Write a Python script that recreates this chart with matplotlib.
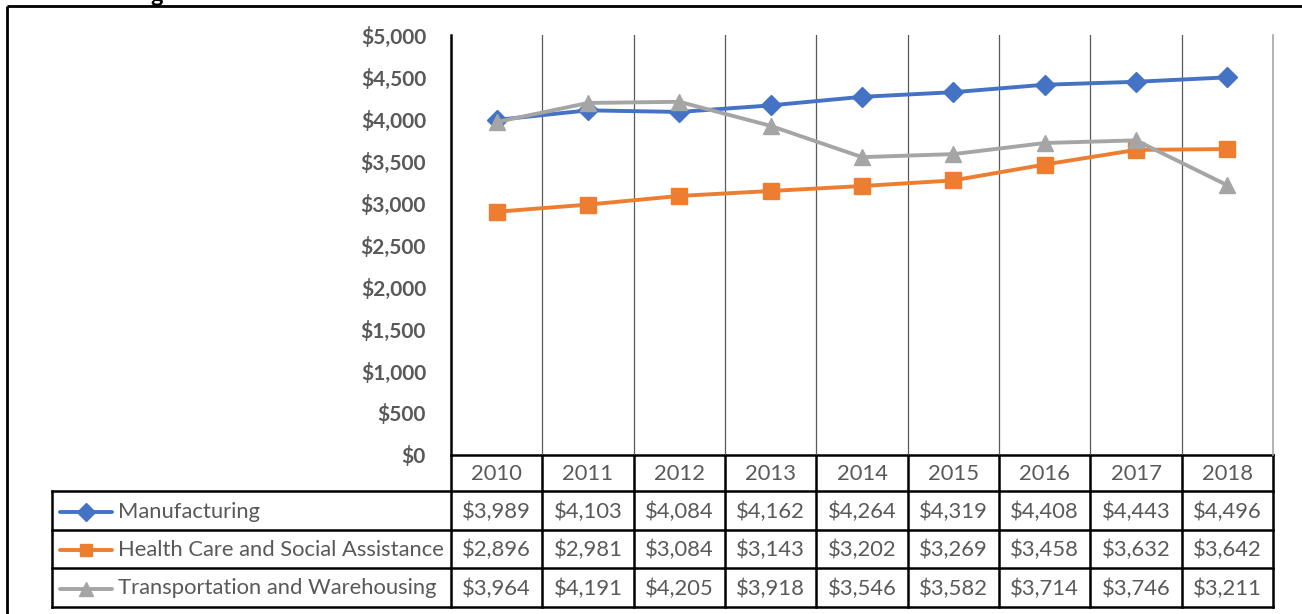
import matplotlib
matplotlib.use("Agg")
import matplotlib.pyplot as plt

years = ["2010", "2011", "2012", "2013", "2014", "2015", "2016", "2017", "2018"]
series_names = ["Manufacturing", "Health Care and Social Assistance", "Transportation and Warehousing"]
manufacturing = [3989, 4103, 4084, 4162, 4264, 4319, 4408, 4443, 4496]
health_care = [2896, 2981, 3084, 3143, 3202, 3269, 3458, 3632, 3642]
transportation = [3964, 4191, 4205, 3918, 3546, 3582, 3714, 3746, 3211]
y_ticks = [0, 500, 1000, 1500, 2000, 2500, 3000, 3500, 4000, 4500, 5000]

colors = ["#4472C4", "#ED7D31", "#A5A5A5"]
markers = ["D", "s", "^"]
msizes = [10.5, 11, 12]
all_series = [manufacturing, health_care, transportation]

W, H = 1302, 614
fig = plt.figure(figsize=(W / 100, H / 100), dpi=100)
plt.rcParams['font.family'] = ['Lato', 'DejaVu Sans']
TXT = "#595959"
FS = 15.8

# overlay axes in pixel coordinates for table / borders
ov = fig.add_axes([0, 0, 1, 1])
ov.set_xlim(0, W)
ov.set_ylim(H, 0)
ov.axis("off")

# plot area
L, R, T, B = 451, 1273, 35, 455
ax = fig.add_axes([L / W, 1 - B / H, (R - L) / W, (B - T) / H])
n = len(years)
xs = list(range(n))
ax.set_xlim(-0.5, n - 0.5)
ax.set_ylim(0, 5000)
for i, (vals, c, m, ms) in enumerate(zip(all_series, colors, markers, msizes)):
    ax.plot(xs, vals, color=c, lw=2.8, marker=m, ms=ms, mec=c, mfc=c, zorder=3 + i,
            solid_capstyle="round")
for k in range(1, n):
    ax.axvline(k - 0.5, color="#595959", lw=0.9, zorder=1)
for s in ["top", "bottom"]:
    ax.spines[s].set_visible(False)
ax.spines["left"].set_color("black")
ax.spines["left"].set_linewidth(1.8)
ax.spines["right"].set_color("#A6A6A6")
ax.spines["right"].set_linewidth(1.2)
ax.set_xticks([])
ax.set_yticks(y_ticks)
ax.set_yticklabels([f"${v:,}" for v in y_ticks], fontsize=15, fontweight="bold", color=TXT)
ax.tick_params(axis="y", length=0, pad=18)
ax.patch.set_alpha(0)

# figure border (left/top) and cut-off title glyph
ov.plot([7, 7], [6, H], color="black", lw=2, solid_capstyle="butt")
ov.plot([7, W], [6, 6], color="black", lw=2, solid_capstyle="butt")
ov.text(157, 2, "g", fontsize=17, fontweight="bold", color="black", ha="center", va="baseline", clip_on=True)

# table
col_w = (R - L) / n
row_y = [455, 491, 530, 568, 607]
lw_t = 1.8
ov.plot([L, R], [row_y[0], row_y[0]], color="black", lw=lw_t)
for r in range(1, 5):
    ov.plot([52, R], [row_y[r], row_y[r]], color="black", lw=lw_t)
for k in range(n + 1):
    x = L + k * col_w
    ov.plot([x, x], [row_y[0], row_y[4]], color="black", lw=lw_t)
ov.plot([52, 52], [row_y[1], row_y[4]], color="black", lw=lw_t)

for k, yr in enumerate(years):
    ov.text(L + (k + 0.5) * col_w, (row_y[0] + row_y[1]) / 2 + 1, yr, fontsize=FS,
            color=TXT, ha="center", va="center")
for r, (name, vals, c, m, ms) in enumerate(zip(series_names, all_series, colors, markers, msizes)):
    yc = (row_y[r + 1] + row_y[r + 2]) / 2 + 1
    ov.plot([60, 112], [yc, yc], color=c, lw=2.8, solid_capstyle="round")
    ov.plot([86], [yc], marker=m, ms=ms * 0.85, color=c)
    ov.text(118, yc, name, fontsize=FS, color=TXT, ha="left", va="center")
    for k, v in enumerate(vals):
        ov.text(L + (k + 0.5) * col_w, yc, f"${v:,}", fontsize=FS, color=TXT,
                ha="center", va="center")

fig.savefig("out.png", dpi=100)
